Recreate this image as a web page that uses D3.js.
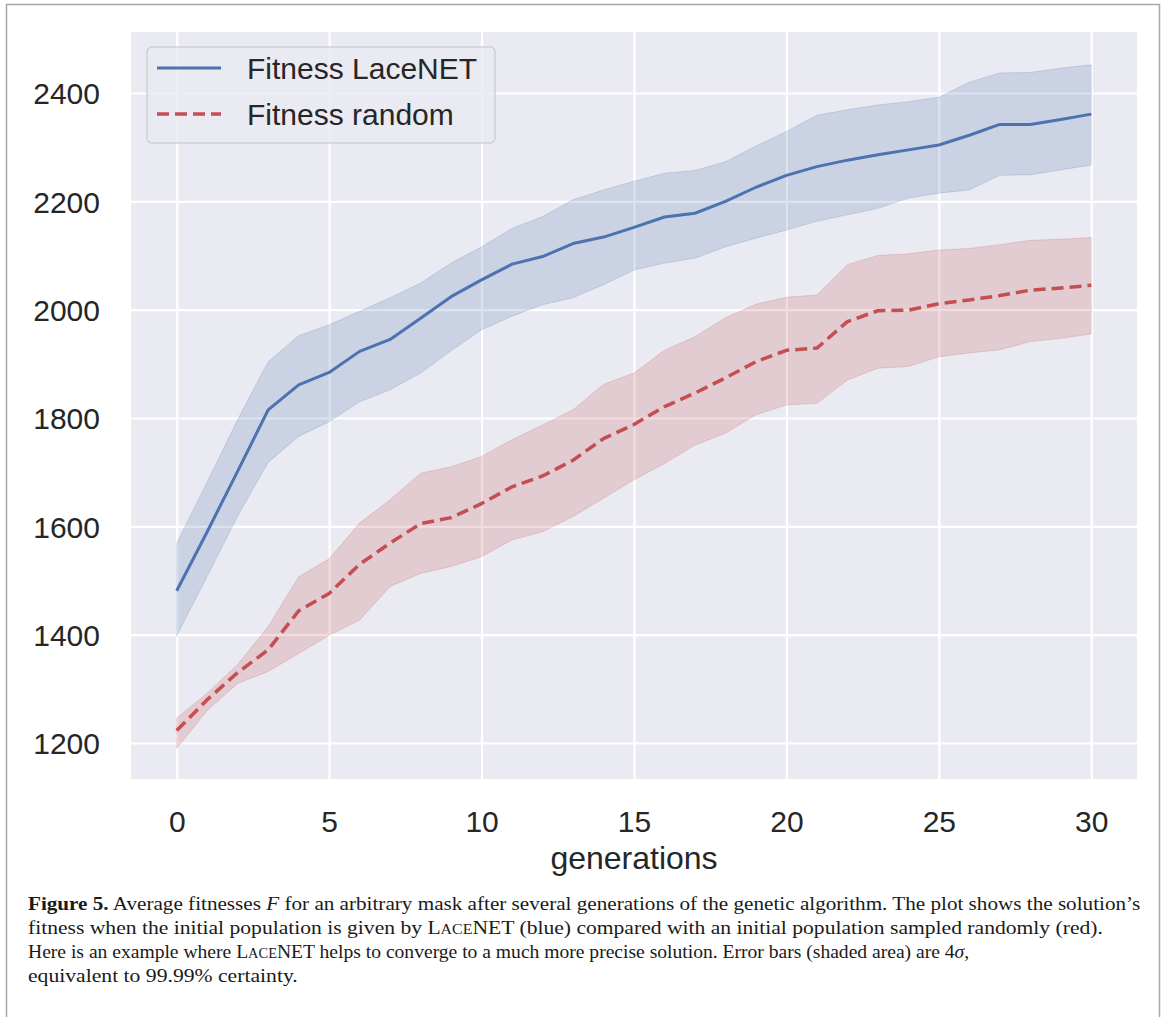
<!DOCTYPE html>
<html>
<head>
<meta charset="utf-8">
<script src="https://cdn.jsdelivr.net/npm/d3@7"></script>
<style>
  html, body { margin: 0; padding: 0; background: #ffffff; }
  svg { display: block; }
</style>
</head>
<body>
<svg id="chart" width="1167" height="1017"></svg>
<script>
// ---------------- data ----------------
const generations = [0,1,2,3,4,5,6,7,8,9,10,11,12,13,14,15,16,17,18,19,20,21,22,23,24,25,26,27,28,29,30];

const lacenetMean  = [1481,1590,1702,1815,1861,1884,1923,1945,1984,2024,2055,2084,2098,2122,2134,2152,2171,2178,2200,2226,2248,2264,2276,2286,2295,2304,2322,2342,2342,2351,2361];
const lacenetUpper = [1569,1682,1797,1904,1952,1972,1997,2022,2049,2086,2116,2150,2172,2203,2221,2237,2252,2257,2273,2302,2329,2359,2369,2378,2384,2392,2420,2437,2438,2446,2452];
const lacenetLower = [1398,1508,1619,1718,1766,1793,1830,1852,1883,1924,1963,1988,2009,2022,2046,2073,2086,2095,2116,2132,2147,2163,2175,2187,2206,2215,2221,2248,2249,2258,2267];

const randomMean  = [1223,1280,1330,1372,1444,1476,1530,1569,1605,1616,1642,1673,1693,1722,1762,1788,1821,1846,1874,1904,1925,1929,1978,1998,1999,2011,2018,2026,2036,2040,2045];
const randomUpper = [1246,1292,1345,1415,1507,1540,1606,1649,1698,1710,1729,1760,1787,1815,1862,1883,1925,1950,1985,2010,2023,2027,2083,2100,2103,2110,2113,2120,2128,2130,2133];
const randomLower = [1190,1260,1310,1332,1365,1399,1427,1489,1513,1526,1544,1575,1590,1618,1652,1686,1716,1750,1772,1806,1824,1827,1870,1892,1895,1913,1920,1926,1941,1947,1955];

const seriesNames = ["Fitness LaceNET", "Fitness random"];
const xTicks = [0,5,10,15,20,25,30];
const yTicks = [1200,1400,1600,1800,2000,2200,2400];
const xLabel = "generations";

// ---------------- layout ----------------
const svg = d3.select("#chart");
const plot = { left: 131, right: 1137, top: 32, bottom: 779 };
const colors = { blue: "#4c72b0", red: "#c44e52", bg: "#eaeaf2", text: "#262626" };
const sans = "Liberation Sans, Arial, sans-serif";

// outer frame
svg.append("rect").attr("x", 6.5).attr("y", 4.5).attr("width", 1153).attr("height", 1100)
  .attr("fill", "#ffffff").attr("stroke", "#a8a8a8").attr("stroke-width", 1.5);

const x = d3.scaleLinear().domain([-1.5, 31.5]).range([plot.left, plot.right]);
const y = d3.scaleLinear().domain([1133.5, 2512.6]).range([plot.bottom, plot.top]);

// background
svg.append("rect").attr("x", plot.left).attr("y", plot.top)
  .attr("width", plot.right - plot.left).attr("height", plot.bottom - plot.top)
  .attr("fill", colors.bg);

// grid via axes
const gx = svg.append("g").attr("transform", `translate(0,${plot.bottom})`)
  .call(d3.axisBottom(x).tickValues(xTicks).tickSize(-(plot.bottom - plot.top)).tickFormat(""));
gx.select(".domain").remove();
gx.selectAll("line").attr("stroke", "#ffffff").attr("stroke-width", 2.2);

const gy = svg.append("g").attr("transform", `translate(${plot.left},0)`)
  .call(d3.axisLeft(y).tickValues(yTicks).tickSize(-(plot.right - plot.left)).tickFormat(""));
gy.select(".domain").remove();
gy.selectAll("line").attr("stroke", "#ffffff").attr("stroke-width", 2.2);

// tick labels via axes
const ax = svg.append("g").attr("transform", `translate(0,${plot.bottom})`)
  .call(d3.axisBottom(x).tickValues(xTicks).tickSize(0).tickPadding(32).tickFormat(d3.format("d")));
ax.select(".domain").remove();
ax.selectAll("text").attr("font-family", sans).attr("font-size", 30).attr("fill", colors.text);

const ay = svg.append("g").attr("transform", `translate(${plot.left},0)`)
  .call(d3.axisLeft(y).tickValues(yTicks).tickSize(0).tickPadding(31).tickFormat(d3.format("d")));
ay.select(".domain").remove();
ay.selectAll("text").attr("font-family", sans).attr("font-size", 30)
  .attr("fill", colors.text).attr("dy", "0.36em");

// x label
svg.append("text").attr("x", (plot.left + plot.right) / 2).attr("y", 869)
  .attr("text-anchor", "middle").attr("font-family", sans)
  .attr("font-size", 32).attr("fill", colors.text).text(xLabel);

// bands and lines
const clip = svg.append("defs").append("clipPath").attr("id", "clip");
clip.append("rect").attr("x", plot.left).attr("y", plot.top)
  .attr("width", plot.right - plot.left).attr("height", plot.bottom - plot.top);

const g = svg.append("g").attr("clip-path", "url(#clip)");

function band(lower, upper, color) {
  const area = d3.area().x((d, i) => x(generations[i])).y0((d, i) => y(lower[i])).y1((d, i) => y(upper[i]));
  g.append("path").datum(generations).attr("d", area)
    .attr("fill", color).attr("fill-opacity", 0.2).attr("stroke", color).attr("stroke-opacity", 0.2).attr("stroke-width", 1);
}
function line(vals, color, dash, width) {
  const l = d3.line().x((d, i) => x(generations[i])).y((d, i) => y(vals[i]));
  g.append("path").datum(generations).attr("d", l)
    .attr("fill", "none").attr("stroke", color).attr("stroke-width", width)
    .attr("stroke-dasharray", dash).attr("stroke-linejoin", "round").attr("stroke-linecap", "butt");
}
band(lacenetLower, lacenetUpper, colors.blue);
band(randomLower, randomUpper, colors.red);
line(lacenetMean, colors.blue, null, 3);
line(randomMean, colors.red, "12,6", 3.5);

// legend
const lg = svg.append("g");
lg.append("rect").attr("x", 147).attr("y", 47).attr("width", 348).attr("height", 96)
  .attr("rx", 5).attr("fill", colors.bg).attr("fill-opacity", 0.8).attr("stroke", "#cfcfd6").attr("stroke-width", 1.5);
const legendItems = [
  { name: seriesNames[0], color: colors.blue, dash: null, w: 3, cy: 68 },
  { name: seriesNames[1], color: colors.red, dash: "12,6", w: 3.5, cy: 114 }
];
legendItems.forEach(it => {
  lg.append("line").attr("x1", 157).attr("x2", 221).attr("y1", it.cy).attr("y2", it.cy)
    .attr("stroke", it.color).attr("stroke-width", it.w).attr("stroke-dasharray", it.dash);
  lg.append("text").attr("x", 247).attr("y", it.cy).attr("dy", "0.36em")
    .attr("font-family", sans).attr("font-size", 30)
    .attr("fill", colors.text).text(it.name);
});

// caption
const cap = svg.append("g").attr("font-family", "Liberation Serif, Times New Roman, serif")
  .attr("font-size", 19).attr("fill", "#1a1a1a");
const capLines = [
  { y: 910, target: 1113, parts: [
    { t: "Figure 5.", b: true }, { t: " Average fitnesses " }, { t: "F", i: true },
    { t: " for an arbitrary mask after several generations of the genetic algorithm. The plot shows the solution\u2019s" }] },
  { y: 934, target: 1076, parts: [
    { t: "fitness when the initial population is given by L" }, { t: "ACE", sc: true },
    { t: "NET (blue) compared with an initial population sampled randomly (red)." }] },
  { y: 958, target: 942, parts: [
    { t: "Here is an example where L" }, { t: "ACE", sc: true },
    { t: "NET helps to converge to a much more precise solution. Error bars (shaded area) are 4" },
    { t: "\u03c3", i: true }, { t: "," }] },
  { y: 982, target: 270, parts: [{ t: "equivalent to 99.99% certainty." }] }
];
capLines.forEach(ln => {
  const t = cap.append("text").attr("x", 0).attr("y", 0);
  ln.parts.forEach(p => {
    const ts = t.append("tspan").text(p.t);
    if (p.b) ts.attr("font-weight", "bold");
    if (p.i) ts.attr("font-style", "italic");
    if (p.sc) ts.attr("font-size", 14);
  });
  const w = t.node().getComputedTextLength();
  const s = ln.target / w;
  t.attr("transform", `translate(28,${ln.y}) scale(${s},1)`);
});
</script>
</body>
</html>
